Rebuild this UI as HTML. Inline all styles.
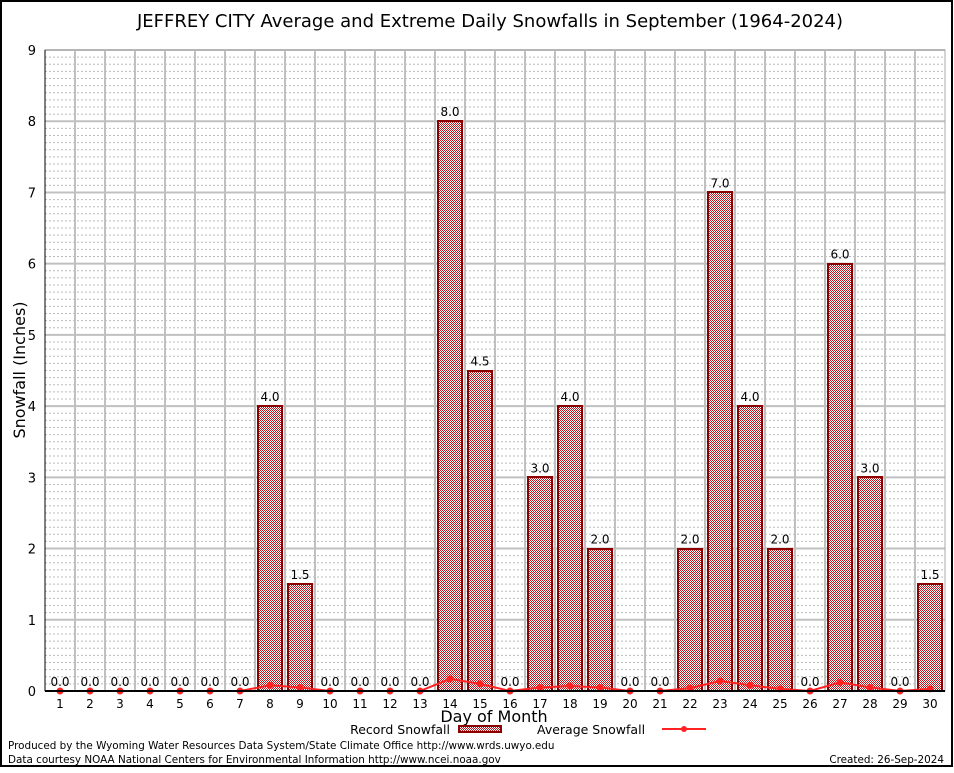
<!DOCTYPE html>
<html><head><meta charset="utf-8"><style>
body{margin:0;background:#fff}
svg text{font-family:"DejaVu Sans","Liberation Sans",sans-serif}
</style></head><body>
<svg id="c" width="954" height="768" xmlns="http://www.w3.org/2000/svg">
<defs>
<pattern id="hatch" x="0" y="0" width="2" height="2" patternUnits="userSpaceOnUse">
<rect width="2" height="2" fill="#fff" shape-rendering="crispEdges"/>
<rect width="1" height="1" fill="#c01820" shape-rendering="crispEdges"/><rect x="1" y="1" width="1" height="1" fill="#c01820" shape-rendering="crispEdges"/>
</pattern>
</defs>
<rect x="1" y="1" width="951" height="765" fill="#fff" stroke="#000" stroke-width="2"/>
<text x="490" y="27" font-size="18" text-anchor="middle">JEFFREY CITY Average and Extreme Daily Snowfalls in September (1964-2024)</text>
<g id="grid"></g>
<g id="bars"></g>
<g id="avg"></g>
<g id="axes"></g>
<text x="25" y="370" font-size="16" text-anchor="middle" transform="rotate(-90 25 370)">Snowfall (Inches)</text>
<text x="494" y="722" font-size="16" text-anchor="middle">Day of Month</text>
<g>
<text x="450" y="734" font-size="12.5" text-anchor="end">Record Snowfall</text>
<rect x="459" y="726" width="42" height="6" fill="url(#hatch)" stroke="#8b0000" stroke-width="2"/>
<text x="537" y="734" font-size="12.5">Average Snowfall</text>
<line x1="662" y1="729" x2="706" y2="729" stroke="#f22" stroke-width="2"/>
<circle cx="684" cy="729" r="3" fill="#f22"/>
</g>
<text x="8" y="749" font-size="10.4">Produced by the Wyoming Water Resources Data System/State Climate Office http://www.wrds.uwyo.edu</text>
<text x="8" y="763" font-size="10.4">Data courtesy NOAA National Centers for Environmental Information http://www.ncei.noaa.gov</text>
<text x="944" y="763" font-size="10.4" text-anchor="end">Created: 26-Sep-2024</text>
</svg>
<script>
const days=[1,2,3,4,5,6,7,8,9,10,11,12,13,14,15,16,17,18,19,20,21,22,23,24,25,26,27,28,29,30];
const records=[0,0,0,0,0,0,0,4,1.5,0,0,0,0,8,4.5,0,3,4,2,0,0,2,7,4,2,0,6,3,0,1.5];
const averages=[0,0,0,0,0,0,0,0.08,0.05,0,0,0,0,0.17,0.1,0,0.05,0.07,0.05,0,0,0.04,0.14,0.08,0.03,0,0.12,0.05,0,0.03];
const yTicks=[0,1,2,3,4,5,6,7,8,9];
const NS="http://www.w3.org/2000/svg";
const L=45,R=945,T=50,B=691,YMAX=9;
const x=d=>L+(d-0.5)*(R-L)/days.length;
const y=v=>B-v*(B-T)/YMAX;
function mk(tag,attrs,parent,txt){const e=document.createElementNS(NS,tag);for(const k in attrs)e.setAttribute(k,attrs[k]);if(txt!==undefined)e.textContent=txt;document.getElementById(parent).appendChild(e);return e;}
for(let v=0;v<YMAX;v+=0.1){if(Math.abs(v-Math.round(v))<0.01)continue;const g=mk('line',{x1:L,x2:R,y1:y(v),y2:y(v),stroke:'#bbb','stroke-dasharray':'2,2','stroke-width':1},'grid');

}
yTicks.forEach(t=>{const g=mk('line',{x1:L,x2:R,y1:y(t),y2:y(t),stroke:'#c0c0c0','stroke-width':2},'grid');


const lb=mk('text',{x:L-9,y:y(t)+5,'font-size':13,'text-anchor':'end','font-family':'Liberation Serif,serif'},'axes',String(t));

});
for(let i=1;i<days.length;i++){const xx=L+i*(R-L)/days.length;const g=mk('line',{x1:xx,x2:xx,y1:T,y2:B,stroke:'#c0c0c0','stroke-width':2},'grid');

}
const fr=mk('rect',{x:L,y:T,width:R-L,height:B-T,fill:'none',stroke:'#aaa','stroke-width':1},'axes');


const xa=mk('line',{x1:L,x2:R,y1:B,y2:B,stroke:'#000','stroke-width':2},'axes');


const ya=mk('line',{x1:L,x2:L,y1:T,y2:B,stroke:'#000','stroke-width':1},'axes');


days.forEach((d,i)=>{const v=records[i];
if(v>0){const yy=Math.round(y(v));const b=mk('rect',{x:x(d)-12,y:yy,width:24,height:B-yy,fill:'url(#hatch)',stroke:'#8b0000','stroke-width':2},'bars');

}
const t=mk('text',{x:x(d),y:y(v)-5,'font-size':12,'text-anchor':'middle'},'bars',v.toFixed(1));


const xl=mk('text',{x:x(d),y:B+17,'font-size':12,'text-anchor':'middle','font-family':'Liberation Serif,serif'},'axes',String(d));

});
const pl=mk('polyline',{points:days.map((d,i)=>x(d)+','+y(averages[i])).join(' '),fill:'none',stroke:'#f22','stroke-width':2},'avg');


days.forEach((d,i)=>{const c=mk('circle',{cx:x(d),cy:y(averages[i]),r:3.5,fill:'#f22'},'avg');

});
</script>
</body></html>
